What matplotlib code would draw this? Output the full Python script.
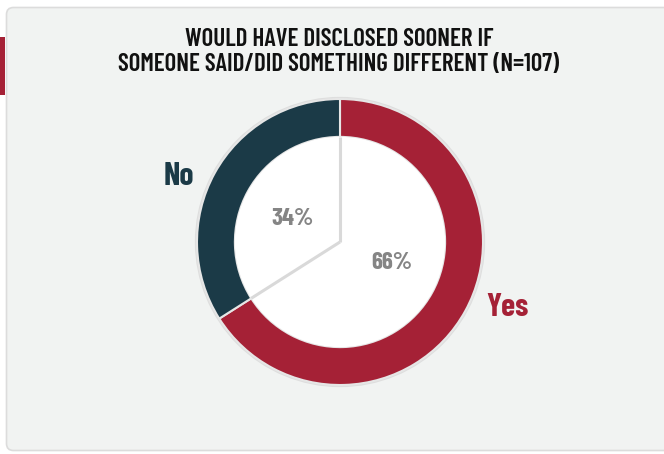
import matplotlib
matplotlib.use("Agg")
import matplotlib.pyplot as plt
from matplotlib.patches import FancyBboxPatch, Rectangle, Circle
import numpy as np

title = "WOULD HAVE DISCLOSED SOONER IF\nSOMEONE SAID/DID SOMETHING DIFFERENT (N=107)"
labels = ["Yes", "No"]
shares = [66, 34]
colors = ["#a52136", "#1b3a47"]

FONT = ["Barlow Condensed", "Open Sans Condensed", "Liberation Sans Narrow", "DejaVu Sans"]

W, H = 664, 454
fig = plt.figure(figsize=(W / 100, H / 100), dpi=100)
fig.patch.set_facecolor("white")

# page / card layer in pixel coordinates
bg = fig.add_axes([0, 0, 1, 1])
bg.set_xlim(0, W)
bg.set_ylim(H, 0)
bg.axis("off")
bg.add_patch(FancyBboxPatch((6.5, 7.5), 700, 443, boxstyle="round,pad=0,rounding_size=7",
                            fc="#f1f3f2", ec="#dcdcdc", lw=1.2))
bg.add_patch(Rectangle((0, 37), 5, 58, fc="#a52136", ec="none"))
bg.text(339, 52, title, ha="center", va="center", fontsize=18, fontweight=600,
        family=FONT, color="#111111", linespacing=1.08)

# donut
cx, cy, R = 340, 242, 143
pad = 1.06
ax = fig.add_axes([(cx - R * pad) / W, (H - cy - R * pad) / H, 2 * R * pad / W, 2 * R * pad / H])
ax.add_patch(Circle((0, 0), 1.015, fc="#dedede", ec="none", zorder=0))
wedges, _ = ax.pie(shares, colors=colors, startangle=90, counterclock=False, radius=1,
                   wedgeprops=dict(width=0.265, edgecolor="#e6e6e6", linewidth=1.5))
ax.add_patch(Circle((0, 0), 0.735, fc="white", ec="none", zorder=3))
# divider lines inside the hole
bounds = np.cumsum([0] + shares[:-1])
for b in bounds:
    ang = np.deg2rad(90 - b / sum(shares) * 360)
    ax.plot([0, 0.735 * np.cos(ang)], [0, 0.735 * np.sin(ang)], color="#d9d9d9", lw=2.2,
            solid_capstyle="butt", zorder=4)
ax.set_xlim(-pad, pad)
ax.set_ylim(-pad, pad)
ax.set_aspect("auto")
ax.axis("off")

# labels
pct_pos = {"Yes": (0.36, -0.15), "No": (-0.33, 0.16)}
lab_pos = {"Yes": (1.17, -0.46), "No": (-1.13, 0.455)}
for lab, s, c in zip(labels, shares, colors):
    ax.text(*pct_pos[lab], f"{s}%", ha="center", va="center", fontsize=18, fontweight=700,
            family=FONT, color="#858585", zorder=5)
    ax.text(*lab_pos[lab], lab, ha="center", va="center", fontsize=23, fontweight=700,
            family=FONT, color=c)

fig.savefig("out.png", dpi=100, facecolor=fig.get_facecolor())
